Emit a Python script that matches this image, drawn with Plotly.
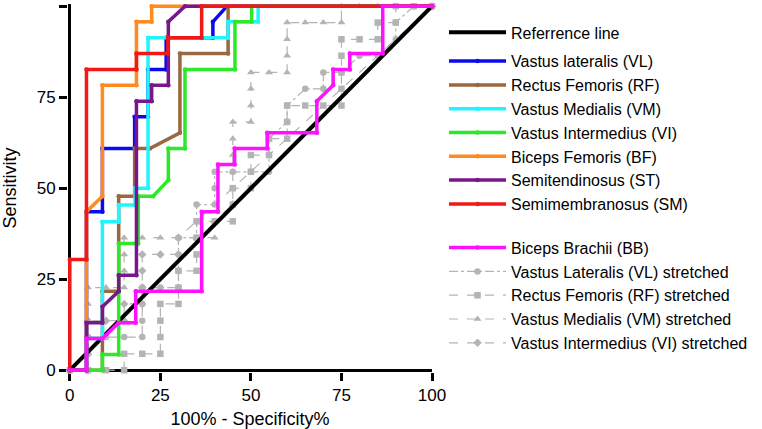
import plotly.graph_objects as go

# ---------------- data ----------------
ref_x = [0, 100]
ref_y = [0, 100]

vl_x = [0, 4.6, 4.6, 9.0, 9.0, 17.9, 17.9, 21.6, 21.6, 26.6, 26.6, 39.5, 39.5, 43.4, 100]
vl_y = [0, 0, 43.5, 43.5, 60.9, 60.9, 69.6, 69.6, 82.6, 82.6, 91.3, 91.3, 95.7, 100, 100]

rf_x = [0, 9.0, 9.0, 13.5, 13.5, 17.9, 17.9, 22.1, 30.4, 30.4, 43.7, 43.7, 100]
rf_y = [0, 0, 21.7, 21.7, 47.8, 47.8, 60.9, 60.9, 65.2, 87.0, 87.0, 100, 100]

vm_x = [0, 4.6, 4.6, 9.0, 9.0, 13.5, 13.5, 18.0, 18.0, 21.6, 21.6, 43.7, 43.7, 52.0, 52.0, 100]
vm_y = [0, 0, 8.7, 8.7, 40.8, 40.8, 45.4, 45.4, 50.0, 50.0, 91.3, 91.3, 95.7, 95.7, 100, 100]

vi_x = [0, 9.0, 9.0, 13.5, 13.5, 18.9, 18.9, 23.0, 27.2, 27.2, 31.8, 31.8, 45.6, 45.6, 50.2, 50.2, 100]
vi_y = [0, 0, 4.3, 4.3, 34.8, 34.8, 47.8, 47.8, 52.2, 60.9, 60.9, 82.6, 82.6, 95.7, 95.7, 100, 100]

bf_x = [0, 4.6, 4.6, 9.0, 9.0, 18.4, 18.4, 22.6, 22.6, 100]
bf_y = [0, 0, 43.5, 47.8, 78.3, 78.3, 95.7, 95.7, 100, 100]

st_x = [0, 4.6, 4.6, 9.0, 9.0, 13.5, 13.5, 18.4, 18.4, 22.6, 22.6, 27.2, 27.2, 31.8, 100]
st_y = [0, 0, 13.0, 13.0, 17.4, 21.7, 26.1, 26.1, 73.9, 73.9, 78.3, 78.3, 95.7, 100, 100]

sm_x = [0, 0, 4.6, 4.6, 18.4, 18.4, 27.1, 27.1, 36.4, 36.4, 100]
sm_y = [0, 30.4, 30.4, 82.6, 82.6, 87.0, 87.0, 91.3, 91.3, 100, 100]

bb_x = [0, 4.6, 4.6, 9.0, 13.5, 18.2, 18.2, 36.4, 36.4, 40.9, 40.9, 45.5, 45.5, 54.5, 54.5,
        68.2, 68.2, 72.7, 72.7, 77.3, 77.3, 86.4, 86.4, 100]
bb_y = [0, 0, 8.7, 8.7, 13.0, 13.0, 21.7, 21.7, 43.5, 43.5, 56.5, 56.5, 60.9, 60.9, 65.2,
        65.2, 73.9, 78.3, 82.6, 82.6, 87.0, 87.0, 100, 100]

vls_x = [0, 5, 5, 5, 10, 15, 20, 20, 20, 20, 25, 30, 30, 30, 30, 35, 35, 35, 40, 40, 40, 45, 50,
         55, 55, 55, 60, 60, 65, 70, 70, 75, 80, 85, 90, 90, 95, 100]
vls_y = [0, 0, 4.5, 9.1, 9.1, 9.1, 9.1, 13.6, 18.2, 22.7, 22.7, 22.7, 27.3, 31.8, 36.4, 36.4,
         40.9, 45.5, 45.5, 50.0, 54.5, 54.5, 54.5, 54.5, 59.1, 63.6, 68.2, 72.7, 77.3, 77.3,
         81.8, 81.8, 86.4, 86.4, 90.9, 95.5, 100, 100]

rfs_x = [0, 5, 10, 15, 15, 20, 25, 25, 25, 25, 30, 30, 30, 35, 35, 35, 35, 40, 45, 45, 45, 50,
         50, 50, 55, 55, 60, 60, 60, 65, 70, 75, 75, 75, 75, 75, 80, 85, 85, 90, 90, 95, 100]
rfs_y = [0, 0, 0, 0, 4.5, 4.5, 4.5, 9.1, 13.6, 18.2, 18.2, 22.7, 27.3, 27.3, 31.8, 36.4, 40.9,
         40.9, 40.9, 45.5, 50.0, 50.0, 54.5, 59.1, 59.1, 63.6, 63.6, 68.2, 72.7, 72.7, 72.7,
         72.7, 77.3, 81.8, 86.4, 90.9, 90.9, 90.9, 95.5, 95.5, 100, 100, 100]

vms_x = [0, 5, 5, 5, 5, 5, 5, 10, 15, 15, 15, 15, 20, 25, 30, 35, 40, 40, 45, 45, 45, 45, 45, 45,
         50, 50, 50, 50, 55, 60, 60, 60, 60, 65, 70, 75, 75, 80, 85, 90, 95, 100]
vms_y = [0, 0, 4.5, 9.1, 13.6, 18.2, 22.7, 22.7, 22.7, 27.3, 31.8, 36.4, 36.4, 36.4, 36.4, 36.4,
         36.4, 40.9, 45.5, 50.0, 54.5, 59.1, 63.6, 68.2, 68.2, 72.7, 77.3, 81.8, 81.8, 81.8,
         86.4, 90.9, 95.5, 95.5, 95.5, 95.5, 100, 100, 100, 100, 100, 100]

vis_x = [0, 5, 5, 5, 5, 10, 15, 15, 20, 20, 20, 20, 25, 30, 30, 100]
vis_y = [0, 0, 4.5, 9.1, 13.6, 13.6, 13.6, 18.2, 18.2, 22.7, 27.3, 31.8, 31.8, 31.8, 36.4, 100]

tick_vals = [0, 25, 50, 75, 100]
tick_text = ["0", "25", "50", "75", "100"]

FONT = "Liberation Sans, Arial, Helvetica, sans-serif"
GRAY = "#b4b4b4"

fig = go.Figure()

gray_specs = [
    ("Vastus Lateralis (VL) stretched", vls_x, vls_y, "circle", "dashdot", 6.5, 10),
    ("Rectus Femoris (RF) stretched", rfs_x, rfs_y, "square", "dash", 6.5, 11),
    ("Vastus Medialis (VM) stretched", vms_x, vms_y, "triangle-up", "dash", 7, 12),
    ("Vastus Intermedius (VI) stretched", vis_x, vis_y, "diamond", "dash", 6.5, 13),
]
for name, xs, ys, sym, dash, msz, rank in gray_specs:
    fig.add_trace(go.Scatter(
        x=xs, y=ys, name=name, mode="lines+markers",
        line=dict(color=GRAY, width=1.2, dash=dash),
        marker=dict(color=GRAY, symbol=sym, size=msz),
        legend="legend2", legendrank=rank, cliponaxis=False))

fig.add_trace(go.Scatter(
    x=ref_x, y=ref_y, name="Referrence line", mode="lines",
    line=dict(color="black", width=4), legendgroup="a", legendrank=1))

col_specs = [
    ("Vastus lateralis (VL)", vl_x, vl_y, "#0a0af0", 2),
    ("Rectus Femoris (RF)", rf_x, rf_y, "#9a6840", 3),
    ("Vastus Medialis (VM)", vm_x, vm_y, "#22f4ff", 4),
    ("Vastus Intermedius (VI)", vi_x, vi_y, "#2ee82a", 5),
    ("Biceps Femoris (BF)", bf_x, bf_y, "#ff8a1e", 6),
    ("Semitendinosus (ST)", st_x, st_y, "#7a168c", 7),
    ("Semimembranosus (SM)", sm_x, sm_y, "#f21818", 8),
]
for name, xs, ys, col, rank in col_specs:
    fig.add_trace(go.Scatter(
        x=xs, y=ys, name=name, mode="lines+markers",
        line=dict(color=col, width=3.5),
        marker=dict(color=col, size=4.5),
        legendgroup="b", legendrank=rank, cliponaxis=False))

fig.add_trace(go.Scatter(
    x=bb_x, y=bb_y, name="Biceps Brachii (BB)", mode="lines+markers",
    line=dict(color="#ff10ff", width=3.5),
    marker=dict(color="#ff10ff", size=4.5),
    legend="legend2", legendrank=9, cliponaxis=False))

axis_common = dict(
    showgrid=False, showline=False, zeroline=True, zerolinecolor="black", zerolinewidth=3,
    ticks="outside", ticklen=8, tickwidth=2.5, tickcolor="black",
    tickvals=tick_vals, ticktext=tick_text,
    tickfont=dict(family=FONT, size=17, color="black"),
    layer="below traces", automargin=False,
)

fig.update_layout(
    width=762, height=429,
    margin=dict(l=68, r=330, t=4, b=57),
    paper_bgcolor="white", plot_bgcolor="white",
    font=dict(family=FONT, color="black"),
    xaxis=dict(range=[-0.5, 100], title=dict(text="100% - Specificity%",
               font=dict(family=FONT, size=18), standoff=8), **axis_common),
    yaxis=dict(range=[-0.5, 100.6], title=dict(text="Sensitivity",
               font=dict(family=FONT, size=18), standoff=19), **axis_common),
    legend=dict(x=1.033, y=0.969, xanchor="left", yanchor="top",
                font=dict(family=FONT, size=16), tracegroupgap=5,
                itemwidth=57, bgcolor="rgba(0,0,0,0)"),
    legend2=dict(x=1.033, y=0.384, xanchor="left", yanchor="top",
                 font=dict(family=FONT, size=16), tracegroupgap=0,
                 itemwidth=57, bgcolor="rgba(0,0,0,0)"),
    showlegend=True,
)

fig.write_html("out.html", config={"displayModeBar": False},
               post_script="document.body.style.margin='0';")
